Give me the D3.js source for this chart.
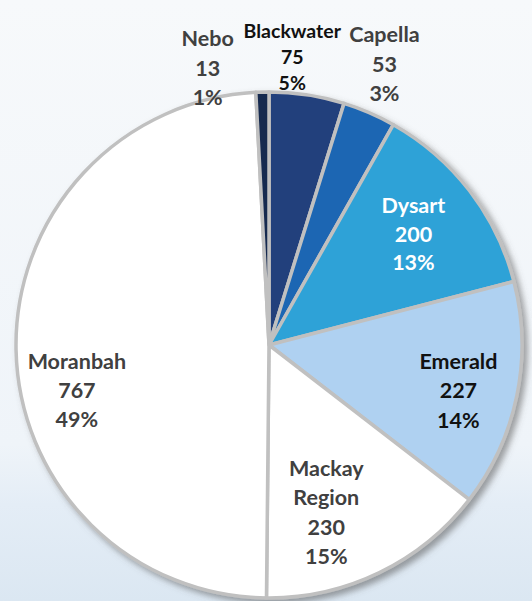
<!DOCTYPE html>
<html>
<head>
<meta charset="utf-8">
<script src="https://cdn.jsdelivr.net/npm/d3@7"></script>
<style>
  html, body { margin: 0; padding: 0; }
  body { width: 532px; height: 601px; overflow: hidden; }
  text { font-family: Lato, "Open Sans", sans-serif; font-weight: bold; }
</style>
</head>
<body>
<div id="chart"></div>
<script>
// slices, clockwise from 12 o'clock
const towns  = ["Blackwater", "Capella", "Dysart", "Emerald", "Mackay Region", "Moranbah", "Nebo"];
const counts = [75, 53, 200, 227, 230, 767, 13];
const shares = ["5%", "3%", "13%", "14%", "15%", "49%", "1%"];

const fills     = ["#223f7c", "#1d66b3", "#2ea2d7", "#afd1f1", "#ffffff", "#ffffff", "#172a4f"];
const textFills = ["#111111", "#404040", "#ffffff", "#111111", "#404040", "#404040", "#404040"];

// label placement: radius factor of R, angle nudge in degrees, font size, line height
const labelPos = {
  "Blackwater":    {k: 1.14, shift: -4,  size: 19.5, lh: 26},
  "Capella":       {k: 1.20, shift: -1,  size: 21.5, lh: 29.5},
  "Dysart":        {k: 0.72, shift: 0,   size: 21.5, lh: 29},
  "Emerald":       {k: 0.77, shift: 2,   size: 21.5, lh: 29.5},
  "Mackay Region": {k: 0.70, shift: 7,   size: 21.5, lh: 29.5},
  "Moranbah":      {k: 0.78, shift: -12, size: 21.5, lh: 29},
  "Nebo":          {k: 1.12, shift: -11, size: 21.5, lh: 29.5}
};

const W = 532, H = 601;
const cx = 269, cy = 345, R = 253;

const svg = d3.select("#chart").append("svg")
  .attr("width", W).attr("height", H);

const defs = svg.append("defs");
const bg = defs.append("linearGradient").attr("id", "bg")
  .attr("x1", 0).attr("y1", 0).attr("x2", 0).attr("y2", 1);
bg.append("stop").attr("offset", "0%").attr("stop-color", "#f7f9fb");
bg.append("stop").attr("offset", "74%").attr("stop-color", "#eff4f9");
bg.append("stop").attr("offset", "84%").attr("stop-color", "#e4edf6");
bg.append("stop").attr("offset", "100%").attr("stop-color", "#dbe7f2");

const shadow = defs.append("filter").attr("id", "shadow")
  .attr("x", "-10%").attr("y", "-10%").attr("width", "120%").attr("height", "120%");
shadow.append("feDropShadow")
  .attr("dx", 4).attr("dy", 4).attr("stdDeviation", 3)
  .attr("flood-color", "#555").attr("flood-opacity", 0.55);

svg.append("rect").attr("width", W).attr("height", H).attr("fill", "url(#bg)");

const slices = towns.map((t, i) => ({town: t, count: counts[i], share: shares[i], i}));

const pie = d3.pie().value(d => d.count).sort(null);
const arcs = pie(slices);
const arc = d3.arc().innerRadius(0).outerRadius(R);

const g = svg.append("g").attr("transform", `translate(${cx} ${cy})`);

g.append("g").attr("filter", "url(#shadow)")
  .selectAll("path")
  .data(arcs)
  .join("path")
    .attr("d", arc)
    .attr("fill", d => fills[d.data.i])
    .attr("stroke", "#c0c0c0")
    .attr("stroke-width", 3.5)
    .attr("stroke-linejoin", "round");

const labels = g.selectAll("text.lbl")
  .data(arcs)
  .join("text")
    .attr("class", "lbl")
    .attr("text-anchor", "middle")
    .attr("fill", d => textFills[d.data.i])
    .attr("font-size", d => labelPos[d.data.town].size)
    .attr("transform", d => {
      const p = labelPos[d.data.town];
      const a = (d.startAngle + d.endAngle) / 2 + p.shift * Math.PI / 180;
      const r = R * p.k;
      return `translate(${Math.sin(a) * r} ${-Math.cos(a) * r})`;
    });

labels.each(function(d) {
  const p = labelPos[d.data.town];
  const lines = d.data.town.split(" ").concat([String(d.data.count), d.data.share]);
  const t = d3.select(this);
  lines.forEach((s, j) => {
    t.append("tspan")
      .attr("x", 0)
      .attr("y", (j - (lines.length - 1) / 2) * p.lh)
      .attr("dy", "0.35em")
      .text(s);
  });
});
</script>
</body>
</html>
